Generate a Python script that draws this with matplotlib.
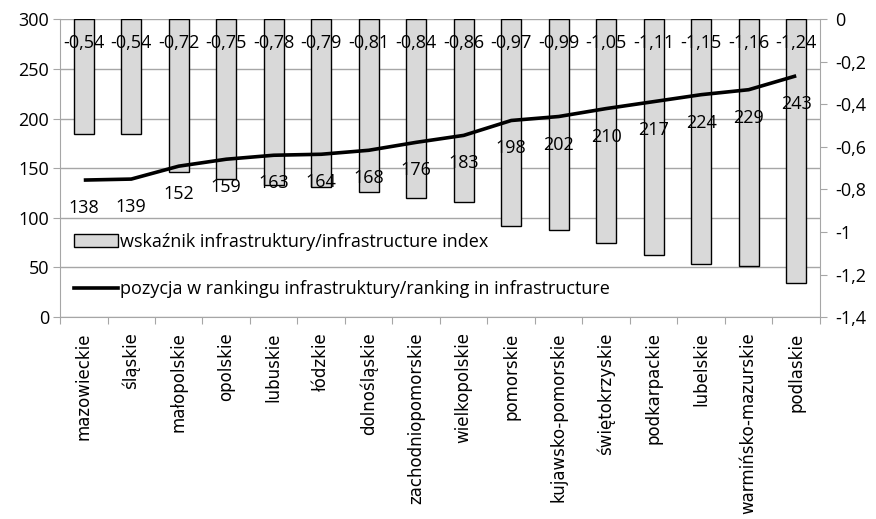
import matplotlib
matplotlib.use("Agg")
import matplotlib.pyplot as plt
from matplotlib.patches import Patch
from matplotlib.lines import Line2D

# Data
regions = ["mazowieckie", "śląskie", "małopolskie", "opolskie", "lubuskie", "łódzkie",
           "dolnośląskie", "zachodniopomorskie", "wielkopolskie", "pomorskie",
           "kujawsko-pomorskie", "świętokrzyskie", "podkarpackie", "lubelskie",
           "warmińsko-mazurskie", "podlaskie"]
infra_index = [-0.54, -0.54, -0.72, -0.75, -0.78, -0.79, -0.81, -0.84, -0.86, -0.97,
               -0.99, -1.05, -1.11, -1.15, -1.16, -1.24]
ranking = [138, 139, 152, 159, 163, 164, 168, 176, 183, 198, 202, 210, 217, 224, 229, 243]

left_ticks = [0, 50, 100, 150, 200, 250, 300]
right_ticks = [0, -0.2, -0.4, -0.6, -0.8, -1.0, -1.2, -1.4]

num_font = "Open Sans"
fs = 13
grid_col = "#a6a6a6"

def pl(v):
    s = f"{v:.2f}".rstrip("0").rstrip(".") if v != 0 else "0"
    return s.replace(".", ",")

fig = plt.figure(figsize=(8.76, 5.19), dpi=100)
ax = fig.add_axes([0.0685, 0.389, 0.8675, 0.574])
x = list(range(len(regions)))

# base axis: left scale + grid
ax.set_xlim(-0.5, len(regions) - 0.5)
ax.set_ylim(0, 300)
ax.set_yticks(left_ticks)
ax.set_yticklabels([str(t) for t in left_ticks], fontfamily=num_font, fontsize=fs)
ax.grid(axis="y", color=grid_col, linewidth=1)
ax.set_axisbelow(True)
ax.set_xticks([i - 0.5 for i in range(len(regions) + 1)])
ax.set_xticklabels([])
ax.set_xticks(x, minor=True)
ax.set_xticklabels(regions, minor=True, rotation=90, fontsize=12, fontfamily="DejaVu Sans")
ax.tick_params(axis="x", which="minor", length=0, pad=11)
ax.tick_params(axis="x", which="major", length=5, color=grid_col)
ax.tick_params(axis="y", length=5, color=grid_col, pad=3)
ax.spines["top"].set_visible(False)
for s in ["left", "bottom", "right"]:
    ax.spines[s].set_color(grid_col)

# bars on right scale
axb = ax.twinx()
axb.set_ylim(-1.4, 0)
axb.set_yticks(right_ticks)
axb.set_yticklabels([pl(t) for t in right_ticks], fontfamily=num_font, fontsize=fs)
axb.tick_params(axis="y", length=5, color=grid_col, pad=6)
for s in axb.spines.values():
    s.set_visible(False)
axb.bar(x, infra_index, width=0.42, color="#d9d9d9", edgecolor="black", linewidth=1)
for i, v in enumerate(infra_index):
    axb.annotate(pl(v), (i, 0), xytext=(0, -24), textcoords="offset pixels",
                 ha="center", va="center", fontfamily=num_font, fontsize=fs)

# line on left scale
axl = ax.twinx()
axl.set_ylim(0, 300)
axl.set_yticks([])
for s in axl.spines.values():
    s.set_visible(False)
axl.plot(x, ranking, color="black", linewidth=2.6, solid_capstyle="butt")
for i, v in enumerate(ranking):
    axl.annotate(str(v), (i, v), xytext=(0, -28), textcoords="offset pixels",
                 ha="center", va="center", fontfamily=num_font, fontsize=fs)

handles = [Patch(facecolor="#d9d9d9", edgecolor="black", linewidth=1),
           Line2D([], [], color="black", linewidth=2.6)]
labels = ["wskaźnik infrastruktury/infrastructure index",
          "pozycja w rankingu infrastruktury/ranking in infrastructure"]
axl.legend(handles, labels, loc="center left", bbox_to_anchor=(0.0, 0.173),
           frameon=False, prop={"family": num_font, "size": fs},
           labelspacing=1.65, handlelength=2.4, handletextpad=0.15, borderaxespad=0.4)

fig.savefig("out.png", dpi=100)
